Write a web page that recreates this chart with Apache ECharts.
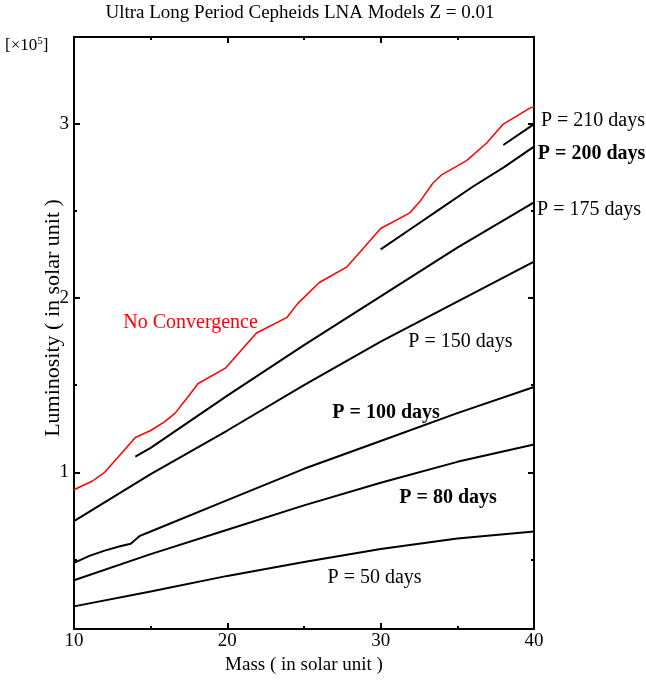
<!DOCTYPE html>
<html>
<head>
<meta charset="utf-8">
<script src="https://cdn.jsdelivr.net/npm/echarts@6/dist/echarts.min.js"></script>
<style>
html,body{margin:0;padding:0;background:#fff;}
#chart{width:646px;height:680px;}
</style>
</head>
<body>
<div id="chart"></div>
<script>
// ---- data (luminosity in units of 1e5 solar) ----
const noConvMass = [10, 11.2, 12, 13, 14, 15, 15.9, 16.6, 17.4, 18.1, 19.9, 21.9, 23.9, 24.6, 26, 27.8, 28.9, 30, 31.9, 32.6, 33.4, 34, 35.6, 36.9, 38, 39.7, 40];
const noConvLum  = [0.90, 0.95, 1.00, 1.10, 1.20, 1.24, 1.29, 1.34, 1.43, 1.51, 1.60, 1.80, 1.89, 1.97, 2.09, 2.18, 2.29, 2.40, 2.49, 2.56, 2.66, 2.71, 2.79, 2.89, 3.00, 3.09, 3.10];

const p210Mass = [38, 40];
const p210Lum  = [2.88, 3.00];

const p200Mass = [30, 32, 34, 36, 38, 40];
const p200Lum  = [2.28, 2.40, 2.52, 2.64, 2.75, 2.87];

const p175Mass = [14, 15, 20, 25, 30, 35, 40];
const p175Lum  = [1.09, 1.14, 1.44, 1.73, 2.01, 2.29, 2.55];

const p150Mass = [10, 15, 20, 25, 30, 35, 40];
const p150Lum  = [0.72, 0.99, 1.24, 1.50, 1.75, 1.98, 2.21];

const p100Mass = [10, 11, 12, 13, 13.7, 14.3, 15, 20, 25, 30, 35, 40];
const p100Lum  = [0.48, 0.52, 0.55, 0.575, 0.59, 0.635, 0.66, 0.84, 1.02, 1.18, 1.34, 1.49];

const p80Mass = [10, 15, 20, 25, 30, 35, 40];
const p80Lum  = [0.38, 0.53, 0.67, 0.81, 0.94, 1.06, 1.16];

const p50Mass = [10, 15, 20, 25, 30, 35, 40];
const p50Lum  = [0.23, 0.315, 0.405, 0.485, 0.56, 0.62, 0.66];

// tick values
const xTickLabels = [10, 20, 30, 40];
const yMajorTicks = [1, 2, 3];
const yMinorTicks = [0.5, 1.5, 2.5];

// annotation texts and anchors (data coords)
const noteText = ['No Convergence', 'P = 210 days', 'P = 200 days', 'P = 175 days', 'P = 150 days', 'P = 100 days', 'P = 80 days', 'P = 50 days'];
const noteMass = [17.6, 40.45, 40.25, 40.2, 35.2, 30.35, 34.4, 29.6];
const noteLum  = [1.86, 3.02, 2.83, 2.51, 1.75, 1.34, 0.856, 0.397];

// ---- styling ----
const SERIF = '"Liberation Serif", "DejaVu Serif", serif';
const noteStyle = [
  {color: '#ff0000', fontWeight: 'normal', align: 'center'},
  {color: '#000', fontWeight: 'normal', align: 'left'},
  {color: '#000', fontWeight: 'bold', align: 'left'},
  {color: '#000', fontWeight: 'normal', align: 'left'},
  {color: '#000', fontWeight: 'normal', align: 'center'},
  {color: '#000', fontWeight: 'bold', align: 'center'},
  {color: '#000', fontWeight: 'bold', align: 'center'},
  {color: '#000', fontWeight: 'normal', align: 'center'}
];

function pairs(ms, ls) { return ms.map((m, i) => [m, ls[i]]); }

function lineSeries(name, ms, ls, color, width) {
  return {
    name: name, type: 'line', data: pairs(ms, ls), showSymbol: false, symbol: 'none',
    lineStyle: {color: color, width: width}, animation: false, xAxisIndex: 0, yAxisIndex: 0, z: 3
  };
}

const axLine = {show: true, lineStyle: {color: '#000', width: 2}};

const chart = echarts.init(document.getElementById('chart'), null, {renderer: 'canvas'});

const option = {
  backgroundColor: '#fff',
  animation: false,
  grid: {left: 74, right: 112, top: 37, bottom: 51, containLabel: false},
  graphic: [
    {type: 'text', x: 300, y: 4, style: {text: 'Ultra Long Period Cepheids LNA Models Z = 0.01', font: '19px ' + SERIF, fill: '#000', align: 'center', verticalAlign: 'top'}, z: 10},
    {type: 'text', left: 5, top: 36, style: {rich: {a: {fontFamily: SERIF, fontSize: 17, fill: '#000'}, s: {fontFamily: SERIF, fontSize: 11, fill: '#000', verticalAlign: 'top', padding: [0,0,9,0]}}, text: '{a|[×10}{s|5}{a|]}', fill: '#000'}, z: 10}
  ],
  xAxis: [
    {
      type: 'value', position: 'bottom', min: 10, max: 40, interval: 10,
      axisLine: axLine,
      axisTick: {show: true, inside: true, length: 6, lineStyle: {color: '#000', width: 2}},
      minorTick: {show: true, splitNumber: 2, length: 3, lineStyle: {color: '#000', width: 2}},
      splitLine: {show: false},
      axisLabel: {show: true, fontFamily: SERIF, fontSize: 19, color: '#000', margin: 3, customValues: xTickLabels},
      name: 'Mass ( in solar unit )', nameLocation: 'middle', nameGap: 27, nameMoveOverlap: false,
      nameTextStyle: {fontFamily: SERIF, fontSize: 19, color: '#000'}
    },
    {
      type: 'value', position: 'top', min: 10, max: 40, interval: 10,
      axisLine: axLine,
      axisTick: {show: true, inside: true, length: 6, lineStyle: {color: '#000', width: 2}},
      minorTick: {show: true, splitNumber: 2, length: 3, lineStyle: {color: '#000', width: 2}},
      splitLine: {show: false}, axisLabel: {show: false}
    }
  ],
  yAxis: [
    {
      type: 'value', position: 'left', min: 0.1, max: 3.5,
      axisLine: axLine,
      axisTick: {show: true, inside: true, length: 6, customValues: yMajorTicks, lineStyle: {color: '#000', width: 2}},
      splitLine: {show: false},
      axisLabel: {show: true, customValues: yMajorTicks, fontFamily: SERIF, fontSize: 19, color: '#000', margin: 5},
      name: 'Luminosity ( in solar unit )', nameLocation: 'middle', nameGap: 10, nameRotate: 90, nameMoveOverlap: false,
      nameTextStyle: {fontFamily: SERIF, fontSize: 22, color: '#000', padding: [0, 0, 0, 30]}
    },
    {
      type: 'value', position: 'left', min: 0.1, max: 3.5, offset: 0,
      axisLine: {show: false},
      axisTick: {show: true, inside: true, length: 3, customValues: yMinorTicks, lineStyle: {color: '#000', width: 2}},
      splitLine: {show: false}, axisLabel: {show: false}
    },
    {
      type: 'value', position: 'right', min: 0.1, max: 3.5,
      axisLine: axLine,
      axisTick: {show: true, inside: true, length: 6, customValues: yMajorTicks, lineStyle: {color: '#000', width: 2}},
      splitLine: {show: false}, axisLabel: {show: false}
    },
    {
      type: 'value', position: 'right', min: 0.1, max: 3.5, offset: 0,
      axisLine: {show: false},
      axisTick: {show: true, inside: true, length: 3, customValues: yMinorTicks, lineStyle: {color: '#000', width: 2}},
      splitLine: {show: false}, axisLabel: {show: false}
    }
  ],
  series: [
    lineSeries('No Convergence', noConvMass, noConvLum, '#ff0000', 1.5),
    lineSeries('P = 210 days', p210Mass, p210Lum, '#000', 2),
    lineSeries('P = 200 days', p200Mass, p200Lum, '#000', 2),
    lineSeries('P = 175 days', p175Mass, p175Lum, '#000', 2),
    lineSeries('P = 150 days', p150Mass, p150Lum, '#000', 2),
    lineSeries('P = 100 days', p100Mass, p100Lum, '#000', 2),
    lineSeries('P = 80 days', p80Mass, p80Lum, '#000', 2),
    lineSeries('P = 50 days', p50Mass, p50Lum, '#000', 2),
    {
      type: 'scatter', clip: false, symbolSize: 0, silent: true, z: 5,
      itemStyle: {opacity: 1},
      data: noteText.map((t, i) => ({
        name: t, value: [noteMass[i], noteLum[i]],
        label: {
          show: true, position: noteStyle[i].align === 'left' ? 'right' : 'inside', distance: 0,
          formatter: '{b}', fontFamily: SERIF, fontSize: 20, opacity: 1,
          color: noteStyle[i].color, fontWeight: noteStyle[i].fontWeight
        }
      }))
    }
  ]
};

chart.setOption(option);
</script>
</body>
</html>
